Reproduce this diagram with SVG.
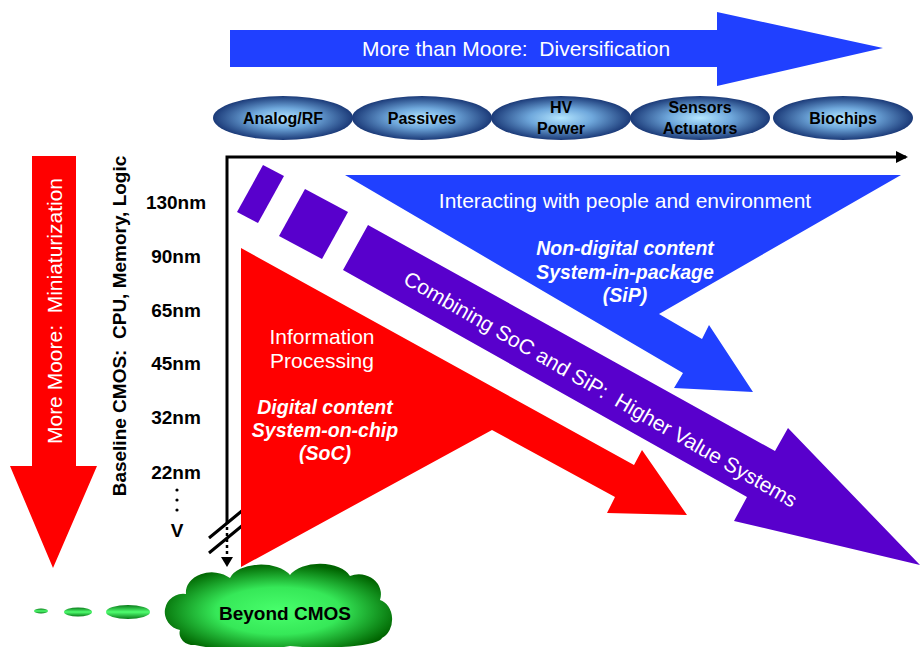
<svg xmlns="http://www.w3.org/2000/svg" width="920" height="647" viewBox="0 0 920 647" xml:space="preserve">
<defs>
<radialGradient id="oval" cx="50%" cy="50%" r="50%">
<stop offset="0" stop-color="#b4e6ff"/>
<stop offset="0.45" stop-color="#6fa8dc"/>
<stop offset="1" stop-color="#1b3a78"/>
</radialGradient>
<radialGradient id="cloud" cx="50%" cy="55%" r="55%">
<stop offset="0" stop-color="#48ff6c"/>
<stop offset="0.5" stop-color="#36e858"/>
<stop offset="1" stop-color="#006400"/>
</radialGradient>
<linearGradient id="pill" x1="0" y1="0" x2="0" y2="1">
<stop offset="0" stop-color="#0a7a1a"/>
<stop offset="0.5" stop-color="#50ff70"/>
<stop offset="1" stop-color="#0a7a1a"/>
</linearGradient>
<marker id="ah" markerWidth="12" markerHeight="12" refX="10" refY="6" orient="auto" markerUnits="userSpaceOnUse">
<path d="M0,0 L12,6 L0,12 Z" fill="#000"/>
</marker>
</defs>
<style>
text{font-family:"Liberation Sans",Arial,sans-serif;white-space:pre}
.w{fill:#fff;font-size:21px}
.wi{fill:#fff;font-size:19.5px;font-style:italic;font-weight:bold}
.ov{fill:#000;font-size:16px;font-weight:bold;text-anchor:middle}
.nm{fill:#000;font-size:19px;font-weight:bold;text-anchor:middle}
.c{text-anchor:middle}
.oval{fill:url(#oval)}
</style>
<g id="top-arrow">
<path d="M230,30 L717,30 L717,12 L883,48 L717,86 L717,67 L230,67 Z" fill="#2040ff"/>
<text class="w c" x="516" y="56">More than Moore:  Diversification</text>
</g>
<g id="ovals">
<g id="analog"><ellipse class="oval" cx="283" cy="118" rx="70" ry="22"/><text class="ov" x="283" y="124">Analog/RF</text></g>
<g id="passives"><ellipse class="oval" cx="422" cy="118" rx="70" ry="22"/><text class="ov" x="422" y="124">Passives</text></g>
<g id="hv"><ellipse class="oval" cx="561" cy="118" rx="70" ry="22"/><text class="ov" x="561" y="113">HV</text><text class="ov" x="561" y="134">Power</text></g>
<g id="sensors"><ellipse class="oval" cx="700" cy="118" rx="70" ry="22"/><text class="ov" x="700" y="113">Sensors</text><text class="ov" x="700" y="134">Actuators</text></g>
<g id="biochips"><ellipse class="oval" cx="843" cy="118" rx="70" ry="22"/><text class="ov" x="843" y="124">Biochips</text></g>
</g>
<g id="more-moore">
<path d="M32,156 L76,156 L76,466 L97,466 L53,568 L10,466 L32,466 Z" fill="#ff0000"/>
<text class="w c" transform="translate(62,311) rotate(-90)">More Moore:  Miniaturization</text>
</g>
<g id="baseline">
<text class="nm" transform="translate(126,326) rotate(-90)">Baseline CMOS:  CPU, Memory, Logic</text>
<text class="nm" x="176" y="209">130nm</text>
<text class="nm" x="176" y="263">90nm</text>
<text class="nm" x="176" y="317">65nm</text>
<text class="nm" x="176" y="370">45nm</text>
<text class="nm" x="176" y="424">32nm</text>
<text class="nm" x="176" y="479">22nm</text>
<circle cx="177" cy="490" r="1.6"/>
<circle cx="177" cy="500" r="1.6"/>
<circle cx="177" cy="510" r="1.6"/>
<text class="nm" x="177" y="537">V</text>
</g>
<g id="connectors" fill="none" stroke="#000">
<path d="M227,524 L227,157 L906,157" stroke-width="3" marker-end="url(#ah)"/>
<path d="M227,527 L227,560" stroke-width="2.5" stroke-dasharray="3,3"/>
<path d="M221,557 L233,557 L227,567 Z" fill="#000" stroke="none"/>
<path d="M209,538 L243,510 M209,553 L243,525" stroke-width="3"/>
</g>
<g id="sip">
<path d="M345,175 L901,175 L659,314 L702,339 L709,325 L753,392 L674,388 L683,373 Z" fill="#2040ff"/>
<text class="w c" x="625" y="208">Interacting with people and environment</text>
<text class="wi c" x="625" y="255">Non-digital content</text>
<text class="wi c" x="625" y="279">System-in-package</text>
<text class="wi c" x="625" y="302">(SiP)</text>
</g>
<g id="combining">
<path d="M263,165 L284,176 L258,223 L237,212 Z" fill="#5800cc"/>
<path d="M305,189 L348,212 L322,259 L279,236 Z" fill="#5800cc"/>
<path d="M368,225 L775,451 L788,428 L920,565 L734,521 L747,497 L343,270 Z" fill="#5800cc"/>
<text class="w" transform="translate(402,283) rotate(30)">Combining SoC and SiP:  Higher Value Systems</text>
</g>
<g id="soc">
<path d="M241,248 L634,465 L642,450 L687,515 L607,513 L615,497 L492,430 L241,567 Z" fill="#ff0000"/>
<text class="w c" x="322" y="344">Information</text>
<text class="w c" x="322" y="368">Processing</text>
<text class="wi c" x="325" y="414">Digital content</text>
<text class="wi c" x="325" y="437">System-on-chip</text>
<text class="wi c" x="325" y="460">(SoC)</text>
</g>
<g id="beyond">
<ellipse cx="41" cy="611" rx="7" ry="2.5" fill="url(#pill)"/>
<ellipse cx="78" cy="612" rx="14" ry="4.5" fill="url(#pill)"/>
<ellipse cx="128" cy="612" rx="22" ry="7" fill="url(#pill)"/>
<path d="M195,645 A14,12 0 0 1 180,630 A18,18 0 0 1 186,594 A26,20 0 0 1 230,578 A32,18 0 0 1 290,575 A32,18 0 0 1 350,576 A22,20 0 0 1 380,600 A16,20 0 0 1 382,638 A60,10 0 0 1 290,646 A60,10 0 0 1 195,645 Z" fill="url(#cloud)"/>
<text class="nm" x="285" y="620">Beyond CMOS</text>
</g>
</svg>
